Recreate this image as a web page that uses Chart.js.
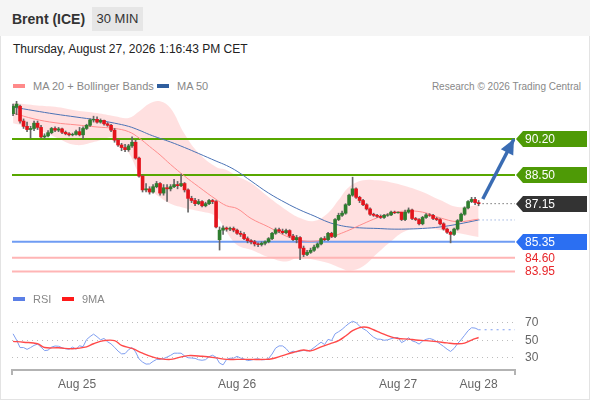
<!DOCTYPE html>
<html>
<head>
<meta charset="utf-8">
<script src="https://cdn.jsdelivr.net/npm/chart.js@4.4.1/dist/chart.umd.min.js"></script>
<style>
    body { margin: 0; width: 590px; height: 400px; overflow: hidden; background: #fff; font-family: "Liberation Sans", Arial, sans-serif; }
    #card { position: absolute; left: 0; top: 0; width: 588px; height: 398px; border: 1px solid #e3e3e3; }
    #head { position: absolute; left: 0; top: 0; width: 590px; height: 36px; background: #f5f5f5; }
    #title { position: absolute; left: 12px; top: 11px; font-size: 14px; font-weight: bold; color: #333; }
    #period { position: absolute; left: 92px; top: 7px; width: 51px; height: 24px; line-height: 24px; background: #e6e6e6; text-align: center; font-size: 13px; color: #333; }
    #date { position: absolute; left: 13px; top: 42px; font-size: 12px; color: #222; }
    .legend { position: absolute; font-size: 11px; color: #888; white-space: nowrap; }
    .sw { display: inline-block; width: 12px; height: 4px; vertical-align: middle; margin: 0 8px 2px 0; }
    #mainBox { position: absolute; left: 0; top: 95px; width: 590px; height: 190px; }
    #rsiBox { position: absolute; left: 0; top: 298px; width: 590px; height: 102px; }
    canvas { display: block; }
</style>
</head>
<body>
<div id="card"></div>
<div id="head"></div>
<div id="title">Brent (ICE)</div>
<div id="period">30 MIN</div>
<div id="date">Thursday, August 27, 2026 1:16:43 PM CET</div>

<div class="legend" style="left:13px; top:80px;"><span class="sw" style="background:#ff8a8a"></span>MA 20 + Bollinger Bands</div>
<div class="legend" style="left:157px; top:80px;"><span class="sw" style="background:#2f5e9e"></span>MA 50</div>
<div class="legend" style="right:9px; top:81px; font-size:10px;">Research © 2026 Trading Central</div>

<div id="mainBox"><canvas id="mainChart" width="590" height="190"></canvas></div>
<div id="rsiBox"><canvas id="rsiChart" width="590" height="102"></canvas></div>

<div class="legend" style="left:13px; top:293px;"><span class="sw" style="background:#5b7fe6"></span>RSI</div>
<div class="legend" style="left:62px; top:293px;"><span class="sw" style="background:#ff1a1a"></span>9MA</div>

<script>
"use strict";

// Candles (30 min), index 0 = first bar
const opens = [91.40,91.70,91.75,91.05,90.80,90.65,90.70,90.95,90.75,90.30,
    90.35,90.50,90.70,90.62,90.68,90.52,90.45,90.40,90.42,90.55,
    90.40,90.70,90.85,91.10,91.13,91.00,91.08,90.92,90.85,90.62,
    90.15,89.92,89.80,89.70,89.88,90.05,89.30,88.45,87.80,87.85,
    87.70,87.95,88.10,87.65,87.90,87.85,87.95,88.05,88.00,88.10,
    87.80,87.40,87.30,87.15,87.25,87.05,87.15,87.30,87.25,85.45,
    85.90,86.00,85.95,85.98,85.90,85.75,85.70,85.50,85.40,85.35,
    85.25,85.22,85.28,85.35,85.50,85.75,85.92,85.85,85.78,85.88,
    85.62,85.45,85.55,85.05,84.75,84.85,84.95,85.10,85.25,85.50,
    85.45,85.75,85.60,86.40,86.60,86.70,87.10,87.55,87.85,87.45,
    87.30,87.10,86.90,86.65,86.60,86.55,86.50,86.60,86.62,86.75,
    86.72,86.74,86.40,86.75,86.85,86.45,86.40,86.20,86.50,86.62,
    86.60,86.45,86.40,86.20,85.95,85.80,85.70,85.95,86.35,86.65,
    86.95,87.25,87.35,87.20];
const closes = [91.75,91.85,91.05,90.80,90.65,90.70,90.95,90.75,90.30,90.35,
    90.50,90.70,90.62,90.68,90.52,90.45,90.40,90.42,90.55,90.40,
    90.70,90.85,91.10,91.13,91.00,91.08,90.92,90.85,90.62,90.15,
    89.92,89.80,89.70,89.88,90.05,89.30,88.45,87.80,87.85,87.70,
    87.95,88.10,87.65,87.90,87.85,87.95,88.05,88.00,88.10,87.80,
    87.40,87.30,87.15,87.25,87.05,87.15,87.30,87.25,86.05,85.90,
    86.00,85.95,85.98,85.90,85.75,85.70,85.50,85.40,85.35,85.25,
    85.22,85.28,85.35,85.50,85.75,85.92,85.85,85.78,85.88,85.62,
    85.45,85.55,85.05,84.75,84.85,84.95,85.10,85.25,85.50,85.45,
    85.75,85.60,86.40,86.60,86.70,87.10,87.55,87.85,87.45,87.30,
    87.10,86.90,86.65,86.60,86.55,86.50,86.60,86.62,86.75,86.72,
    86.74,86.40,86.75,86.85,86.45,86.40,86.20,86.50,86.62,86.60,
    86.45,86.40,86.20,85.95,85.80,85.70,85.95,86.35,86.65,86.95,
    87.25,87.35,87.20,87.15];
const highs = [91.85,91.98,91.80,91.15,91.00,90.80,91.05,91.05,90.85,90.45,
    90.60,90.75,90.78,90.75,90.72,90.58,90.50,90.48,90.62,90.75,
    90.78,90.90,91.15,91.28,91.25,91.15,91.10,90.98,90.90,90.70,
    90.20,90.00,89.95,89.95,90.30,90.15,89.35,88.50,88.10,87.95,
    88.05,88.20,88.15,88.05,88.05,88.05,88.30,88.20,88.55,88.15,
    87.85,87.50,87.40,87.35,87.30,87.22,87.35,87.35,87.30,86.05,
    86.10,86.05,86.05,86.05,85.95,85.85,85.78,85.58,85.45,85.42,
    85.30,85.35,85.40,85.55,85.80,86.00,86.00,85.95,85.95,85.92,
    85.70,85.65,85.60,85.15,84.95,85.05,85.20,85.30,85.55,85.60,
    85.80,85.80,86.45,86.70,86.80,87.15,87.60,88.40,87.90,87.50,
    87.35,87.15,86.95,86.70,86.65,86.62,86.65,86.68,86.80,86.80,
    86.76,86.75,86.85,86.95,86.90,86.50,86.45,86.55,86.68,86.68,
    86.65,86.50,86.45,86.25,86.00,85.85,86.00,86.40,86.70,87.00,
    87.30,87.45,87.45,87.30];
const lows = [91.30,91.35,90.95,90.70,90.55,90.25,90.60,90.65,90.25,90.22,
    90.30,90.45,90.55,90.55,90.45,90.40,90.35,90.35,90.38,90.35,
    90.22,90.65,90.80,91.00,90.95,90.95,90.85,90.80,90.55,90.05,
    89.85,89.65,89.60,89.62,89.80,89.25,88.40,87.70,87.70,87.60,
    87.65,87.90,87.55,87.55,87.25,87.75,87.90,87.85,87.95,87.70,
    86.75,87.20,87.05,87.10,87.00,87.00,87.10,87.15,86.00,84.96,
    85.70,85.85,85.88,85.82,85.70,85.60,85.45,85.30,85.25,85.15,
    85.12,85.15,85.20,85.30,85.45,85.70,85.78,85.72,85.72,85.55,
    85.40,85.30,84.50,84.65,84.70,84.80,84.90,85.05,85.20,85.40,
    85.40,85.55,85.55,86.35,86.55,86.65,87.05,87.50,87.40,87.20,
    87.05,86.85,86.60,86.55,86.50,86.45,86.45,86.55,86.58,86.68,
    86.70,86.35,86.35,86.70,86.40,86.35,86.15,86.15,86.45,86.55,
    86.40,86.35,86.15,85.90,85.75,85.30,85.65,85.90,86.30,86.60,
    86.90,87.20,87.10,87.05];

// Indicator readings (bar index -> value)
const bandIdx = [0,6,12,18,24,29,33,36,39,42,45,49,53,58,61,64,68,73,78,82,86,90,93,96,100,104,108,112,117,122,127,133];
const bandUpper = [91.90,91.80,91.72,91.55,91.43,91.28,91.20,91.50,91.88,91.99,91.66,90.44,89.54,88.88,88.74,88.45,88.12,87.46,86.85,86.47,86.33,86.71,87.32,87.94,88.25,88.25,88.15,87.98,87.70,87.32,86.99,87.09];
const bandLower = [90.95,90.71,90.30,89.92,90.10,90.25,89.55,88.55,87.85,87.45,87.15,86.95,86.80,86.55,85.81,85.20,84.97,84.62,84.42,84.63,84.50,84.35,84.15,84.00,84.20,84.80,85.38,85.85,86.00,85.91,85.77,85.58];
const ma20 = [91.43,91.15,90.97,90.87,90.77,90.70,90.55,90.25,89.85,89.45,89.00,88.45,87.95,87.35,87.05,86.92,86.45,86.05,85.62,85.42,85.38,85.50,85.70,85.90,86.20,86.48,86.70,86.80,86.75,86.48,86.30,86.42];
const ma50 = [91.71,91.54,91.38,91.24,91.10,90.95,90.80,90.62,90.41,90.23,90.06,89.80,89.52,89.16,88.95,88.68,88.22,87.65,87.18,86.85,86.57,86.28,86.14,86.05,86.00,85.98,85.95,85.95,85.98,86.05,86.18,86.38];

// Levels
const levels = [90.20, 88.50, 85.35, 84.60, 83.95];
const levelColors = ['#58a700', '#58a700', '#6f9cf3', '#ffb5b5', '#ffb5b5'];
const lastPrice = 87.15;
const arrowX = [134.2, 143.1];
const arrowY = [87.37, 90.20];

// RSI panel
const rsi = [57.4,50.2,41.5,41.5,39.4,41.5,44.0,45.5,42.0,38.0,
    38.5,42.0,43.3,43.0,41.3,40.1,39.5,42.0,39.6,43.5,
    42.5,50.7,54.2,57.0,54.0,50.5,52.0,48.2,45.7,41.8,
    37.4,34.2,34.5,39.0,41.5,36.5,28.3,24.7,22.4,22.6,
    25.5,27.8,27.9,28.8,30.5,32.5,35.0,35.0,35.0,31.8,
    29.7,29.4,29.0,27.4,26.8,27.5,31.0,32.6,30.3,23.5,
    21.5,27.7,29.2,29.2,31.3,29.4,28.2,26.4,27.0,28.0,
    28.5,27.4,27.5,28.8,34.0,40.8,43.4,43.4,40.3,35.5,
    37.3,36.5,37.5,38.2,37.7,38.6,41.5,44.7,47.7,45.0,
    51.0,49.6,57.4,59.8,62.6,66.2,69.5,71.9,70.3,66.3,
    63.3,61.0,57.0,53.5,51.3,51.1,49.9,50.4,51.7,52.9,
    53.1,47.2,49.5,52.9,49.3,47.9,45.5,49.0,51.0,52.0,
    50.8,48.5,45.7,42.8,39.6,37.0,40.5,46.1,50.6,55.7,
    61.0,64.4,64.0,62.1];
const ma9Idx = [0,3,7,9,13,17,21,23,26,29,31,34,37,40,42,45,47,50,54,58,61,64,68,72,74,77,80,83,85,88,91,93,95,97,99,101,103,105,108,110,113,115,118,121,124,127,129,131,133];
const ma9 = [48.7,47.7,45.9,41.5,41.2,40.1,42.3,45.9,49.5,49.5,44.0,40.5,35.0,30.4,28.6,27.8,29.6,32.2,31.4,29.6,27.8,27.8,27.8,27.8,28.6,32.2,35.8,38.6,37.6,42.3,46.6,49.5,54.9,61.0,64.6,65.0,62.1,58.5,53.8,52.0,51.3,50.2,49.5,48.4,46.9,45.9,46.6,50.2,53.1];
const rsiTicks = [30, 50, 70];
const dayPos = [18.3, 64, 110, 133];
const dayLabels = ['Aug 25', 'Aug 26', 'Aug 27', 'Aug 28'];

// skalor
const xMin = -0.3, xMax = 143.4;
const FONT = '"Liberation Sans", Arial, sans-serif';

function pts(xs, ys) {
    return xs.map((x, i) => ({ x: x, y: ys[i] }));
}

function lineSet(data, color, width, order, extra) {
    return Object.assign({
        type: 'line', data: data, borderColor: color, borderWidth: width,
        pointRadius: 0, fill: false, tension: 0, order: order
    }, extra || {});
}

// taggar till höger om prisgrafen
const tagPlugin = {
    id: 'tags',
    afterDraw(chart) {
        const ctx = chart.ctx;
        const y = chart.scales.y;
        const tags = [
            { v: levels[0], bg: '#4e9a06', fg: '#fff' },
            { v: levels[1], bg: '#4e9a06', fg: '#fff' },
            { v: lastPrice, bg: '#333333', fg: '#fff' },
            { v: levels[2], bg: '#2b6ff2', fg: '#fff' },
            { v: levels[3], bg: null, fg: '#e8262a' },
            { v: levels[4], bg: null, fg: '#e8262a' }
        ];
        ctx.save();
        ctx.font = '12px ' + FONT;
        ctx.textBaseline = 'middle';
        tags.forEach(t => {
            const py = Math.round(y.getPixelForValue(t.v));
            if (t.bg) {
                ctx.fillStyle = t.bg;
                ctx.beginPath();
                ctx.moveTo(516, py);
                ctx.lineTo(523, py - 8);
                ctx.lineTo(587, py - 8);
                ctx.lineTo(587, py + 8);
                ctx.lineTo(523, py + 8);
                ctx.closePath();
                ctx.fill();
            }
            ctx.fillStyle = t.fg;
            ctx.fillText(t.v.toFixed(2), 525, py + 0.5);
        });

        // pilspets
        const meta = chart.getDatasetMeta(chart.data.datasets.findIndex(d => d.id === 'arrow'));
        const p0 = meta.data[0], p1 = meta.data[1];
        const ang = Math.atan2(p1.y - p0.y, p1.x - p0.x);
        const len = 15, half = 7;
        ctx.fillStyle = '#3a6cb3';
        ctx.beginPath();
        ctx.moveTo(p1.x, p1.y);
        ctx.lineTo(p1.x - len * Math.cos(ang) + half * Math.sin(ang), p1.y - len * Math.sin(ang) - half * Math.cos(ang));
        ctx.lineTo(p1.x - len * Math.cos(ang) - half * Math.sin(ang), p1.y - len * Math.sin(ang) + half * Math.cos(ang));
        ctx.closePath();
        ctx.fill();
        ctx.restore();
    }
};

const candleBodies = opens.map((o, i) => ({ x: i, y: [o, closes[i]] }));
const candleWicks = highs.map((h, i) => ({ x: i, y: [lows[i], h] }));

const mainDatasets = [
    lineSet(pts(bandIdx, bandUpper), 'rgba(0,0,0,0)', 0, 10, { fill: '+1', backgroundColor: 'rgba(255,170,170,0.36)', tension: 0.4 }),
    lineSet(pts(bandIdx, bandLower), 'rgba(0,0,0,0)', 0, 10, { tension: 0.4 })
];
levels.forEach((v, i) => {
    mainDatasets.push(lineSet([{ x: xMin, y: v }, { x: xMax, y: v }], levelColors[i], 2, 8));
});
mainDatasets.push(
    lineSet(pts(bandIdx, ma20), '#ff8c8c', 1, 6, { tension: 0.4 }),
    lineSet(pts(bandIdx, ma50), '#4a72b5', 1, 6, { tension: 0.4 }),
    lineSet([{ x: closes.length - 1, y: lastPrice }, { x: xMax, y: lastPrice }], '#333', 1, 2, { borderDash: [1, 3] }),
    lineSet([{ x: bandIdx[bandIdx.length - 1], y: ma50[ma50.length - 1] }, { x: xMax, y: ma50[ma50.length - 1] }], '#6f8fd0', 1, 2, { borderDash: [1, 3] }),
    {
        type: 'bar', data: candleWicks, backgroundColor: '#666', barThickness: 1,
        grouped: false, order: 4
    },
    {
        type: 'bar', data: candleBodies, barThickness: 3, grouped: false, order: 3,
        backgroundColor: ctx => closes[ctx.dataIndex] >= opens[ctx.dataIndex] ? '#2f7d2f' : '#e3141c'
    },
    lineSet(pts(arrowX, arrowY), '#3a6cb3', 3.5, 1, { id: 'arrow', borderCapStyle: 'butt' })
);

new Chart(document.getElementById('mainChart'), {
    type: 'bar',
    data: { datasets: mainDatasets },
    options: {
        responsive: false,
        animation: false,
        events: [],
        layout: { padding: { left: 12, right: 75, top: 0, bottom: 0 } },
        plugins: { legend: { display: false }, tooltip: { enabled: false } },
        scales: {
            x: { type: 'linear', min: xMin, max: xMax, offset: false, display: false },
            y: { type: 'linear', min: 83.31, max: 92.28, display: false }
        }
    },
    plugins: [tagPlugin]
});

// små streck i axelns ändar
const endTicks = {
    id: 'endTicks',
    afterDraw(chart) {
        const a = chart.chartArea, ctx = chart.ctx;
        ctx.save();
        ctx.strokeStyle = '#b3b3b3';
        ctx.lineWidth = 2;
        ctx.beginPath();
        ctx.moveTo(a.left, a.bottom);
        ctx.lineTo(a.left, a.bottom + 5);
        ctx.moveTo(a.right, a.bottom);
        ctx.lineTo(a.right, a.bottom + 5);
        ctx.stroke();
        ctx.restore();
    }
};

new Chart(document.getElementById('rsiChart'), {
    type: 'line',
    data: {
        datasets: [
            lineSet(rsi.map((v, i) => ({ x: i, y: v })), '#7f9ef0', 1, 2),
            lineSet(pts(ma9Idx, ma9), '#ff4a4a', 1.4, 1, { tension: 0.4 }),
            lineSet([{ x: rsi.length - 1, y: rsi[rsi.length - 1] }, { x: xMax, y: rsi[rsi.length - 1] }], '#7f9ef0', 1.2, 3, { borderDash: [2, 4] })
        ]
    },
    options: {
        responsive: false,
        animation: false,
        events: [],
        layout: { padding: { left: 12, right: 0, top: 0, bottom: 0 } },
        plugins: { legend: { display: false }, tooltip: { enabled: false } },
        scales: {
            x: {
                type: 'linear', min: xMin, max: xMax, offset: false,
                grid: { display: false, drawTicks: false },
                border: { display: true, color: '#b3b3b3', width: 2 },
                afterBuildTicks: s => { s.ticks = dayPos.map(v => ({ value: v })); },
                afterFit: s => { s.height = 30; },
                ticks: {
                    autoSkip: false, maxRotation: 0, padding: 7, color: '#666',
                    font: { family: FONT, size: 12 },
                    callback: v => dayLabels[dayPos.indexOf(v)]
                }
            },
            y: {
                type: 'linear', position: 'right', min: 15.56, max: 78.9,
                grid: { color: '#bdbdbd', drawTicks: false, lineWidth: 1 },
                border: { display: false, dash: [1, 4] },
                afterBuildTicks: s => { s.ticks = rsiTicks.map(v => ({ value: v })); },
                afterFit: s => { s.width = 75; },
                ticks: { padding: 10, color: '#666', font: { family: FONT, size: 12 } }
            }
        }
    },
    plugins: [endTicks]
});
</script>
</body>
</html>
